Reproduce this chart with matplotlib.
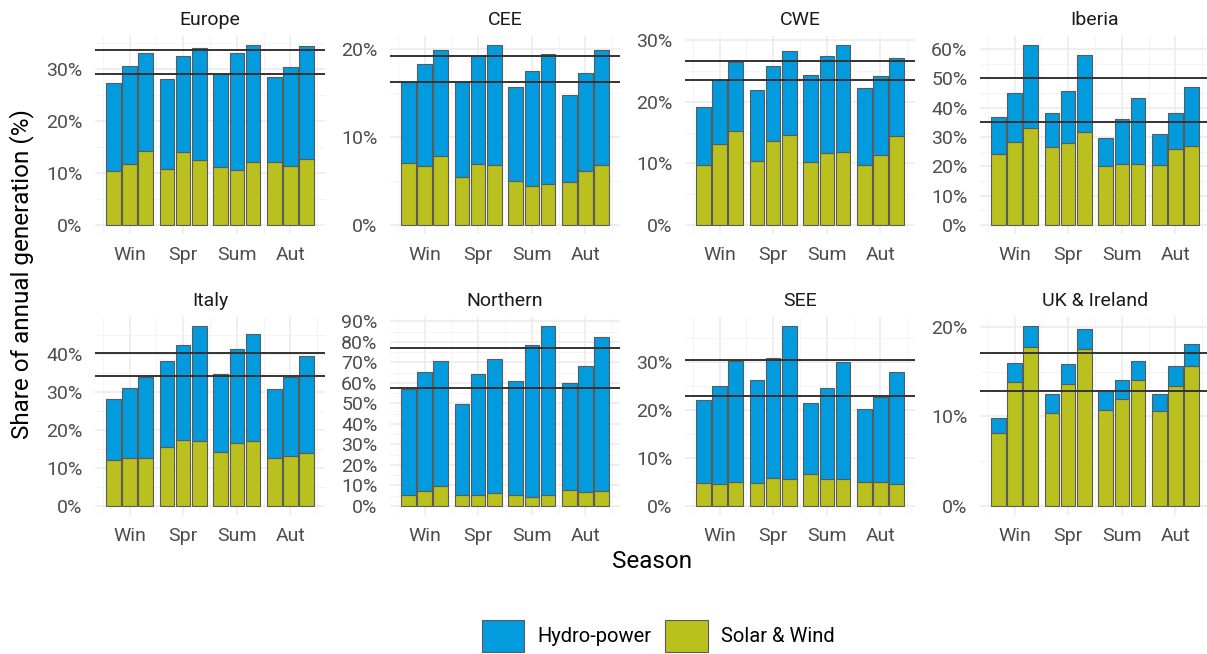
"""
Seasonal share of hydro-power and solar & wind in annual generation,
per region, three years per season, with two reference levels.
"""

import matplotlib.pyplot as plt
from matplotlib.patches import Patch
from matplotlib.ticker import MultipleLocator, PercentFormatter

plt.rcParams.update(
    {
        "font.family": ["Roboto", "DejaVu Sans"],
        "font.size": 14,
        "axes.spines.top": False,
        "axes.spines.right": False,
        "axes.spines.left": False,
        "axes.spines.bottom": False,
    }
)

REGIONS = ["Europe", "CEE", "CWE", "Iberia",
           "Italy", "Northern", "SEE", "UK & Ireland"]
SEASONS = ["Win", "Spr", "Sum", "Aut"]

# share of annual generation (%), 4 seasons x 3 years per region
SOLAR_WIND = [
    [10.4, 11.7, 14.3, 10.7, 14.1, 12.6, 11.2, 10.6, 12.2, 12.1, 11.4, 12.8],
    [7.1, 6.7, 7.9, 5.5, 7.0, 6.8, 5.0, 4.4, 4.7, 4.9, 6.1, 6.8],
    [9.8, 13.2, 15.2, 10.4, 13.7, 14.6, 10.2, 11.6, 11.8, 9.8, 11.4, 14.4],
    [24.2, 28.3, 33.0, 26.6, 28.0, 31.7, 20.0, 20.8, 20.9, 20.3, 26.0, 26.8],
    [12.0, 12.7, 12.6, 15.5, 17.4, 17.2, 14.3, 16.5, 17.0, 12.6, 13.1, 14.0],
    [5.5, 7.2, 9.8, 5.5, 5.5, 6.2, 5.5, 4.6, 5.5, 7.8, 6.8, 7.2],
    [4.8, 4.5, 4.9, 4.8, 5.8, 5.6, 6.7, 5.7, 5.6, 4.9, 5.0, 4.5],
    [8.2, 13.9, 17.8, 10.4, 13.6, 17.5, 10.7, 12.0, 14.1, 10.6, 13.4, 15.6],
]
HYDRO = [
    [17.0, 18.9, 18.8, 17.5, 18.5, 21.6, 17.9, 22.5, 22.5, 16.4, 19.0, 21.7],
    [9.2, 11.6, 12.0, 10.8, 12.2, 13.7, 10.7, 13.1, 14.8, 9.9, 11.2, 13.1],
    [9.3, 10.3, 11.2, 11.5, 12.1, 13.6, 14.2, 15.8, 17.4, 12.4, 12.7, 12.7],
    [12.8, 16.8, 28.4, 11.5, 17.6, 26.3, 9.8, 15.5, 22.5, 10.6, 12.2, 20.4],
    [16.2, 18.4, 21.3, 22.6, 25.0, 30.2, 20.5, 24.8, 28.4, 18.3, 20.9, 25.6],
    [51.7, 58.4, 60.9, 44.2, 59.0, 65.5, 55.6, 73.7, 82.3, 52.0, 61.6, 75.2],
    [17.3, 20.6, 25.4, 21.5, 25.0, 31.9, 14.8, 18.9, 24.3, 15.4, 17.8, 23.5],
    [1.6, 2.1, 2.3, 2.1, 2.3, 2.3, 2.1, 2.1, 2.1, 1.9, 2.2, 2.5],
]
LEVEL_LOW = [29.2, 16.3, 23.5, 35.1, 34.2, 57.8, 23.0, 12.8]
LEVEL_HIGH = [33.7, 19.2, 26.6, 50.0, 40.2, 77.2, 30.5, 17.1]

COLOR_HYDRO = "#029CDE"
COLOR_SOLAR = "#BAC11F"
EDGE = "#5A5A5A"

W, H = 1207, 654
COL_LEFT = [95, 390, 685, 980]
ROW_TOP = [36, 317]
PANEL_W, PANEL_H = 230, 198


def draw_panel(ax, k):
    solar = SOLAR_WIND[k]
    hydro = HYDRO[k]
    xs, bottoms = [], []
    for s in range(len(SEASONS)):
        for j in range(3):
            xs.append(s + 1 + (j - 1) * 0.3)
    ax.bar(xs, solar, width=0.27, color=COLOR_SOLAR, edgecolor=EDGE,
           linewidth=0.8, zorder=2)
    ax.bar(xs, hydro, width=0.27, bottom=solar, color=COLOR_HYDRO,
           edgecolor=EDGE, linewidth=0.8, zorder=2)
    for lvl in (LEVEL_LOW[k], LEVEL_HIGH[k]):
        ax.axhline(lvl, color="#333333", linewidth=1.4, zorder=3)

    top = max(max(a + b for a, b in zip(solar, hydro)),
              LEVEL_LOW[k], LEVEL_HIGH[k])
    ax.set_ylim(-0.05 * top, 1.05 * top)
    ax.set_xlim(0.355, 4.645)

    ax.set_xticks(range(1, len(SEASONS) + 1), SEASONS)
    ax.xaxis.set_minor_locator(MultipleLocator(0.5))
    ax.yaxis.set_major_locator(MultipleLocator(10))
    ax.yaxis.set_minor_locator(MultipleLocator(5))
    ax.yaxis.set_major_formatter(PercentFormatter(xmax=100, decimals=0))

    ax.grid(which="major", color="#EBEBEB", linewidth=1.1, zorder=0)
    ax.grid(which="minor", color="#F3F3F3", linewidth=0.6, zorder=0)
    ax.set_axisbelow(True)
    ax.tick_params(which="both", length=0, colors="#4D4D4D", labelsize=14)
    ax.tick_params(axis="x", pad=8.5)
    ax.tick_params(axis="y", pad=9)
    ax.set_title(REGIONS[k], fontsize=14, color="#1A1A1A", pad=8)


fig = plt.figure(figsize=(W / 100, H / 100), dpi=100)

for k in range(len(REGIONS)):
    r, c = divmod(k, 4)
    rect = [COL_LEFT[c] / W, 1 - (ROW_TOP[r] + PANEL_H) / H,
            PANEL_W / W, PANEL_H / H]
    draw_panel(fig.add_axes(rect), k)

fig.text(652 / W, 1 - 561 / H, "Season", ha="center", va="center",
         fontsize=17.5)
fig.text(22 / W, 1 - 274 / H, "Share of annual generation (%)",
         ha="center", va="center", rotation=90, fontsize=17.5)

handles = [
    Patch(facecolor=COLOR_HYDRO, edgecolor=EDGE, linewidth=0.8,
          label="Hydro-power"),
    Patch(facecolor=COLOR_SOLAR, edgecolor=EDGE, linewidth=0.8,
          label="Solar & Wind"),
]
fig.legend(handles=handles, loc="center", ncol=2, frameon=False,
           bbox_to_anchor=(658 / W, 1 - 636 / H), fontsize=14.5,
           handlelength=2.1, handleheight=2.1, handletextpad=0.65,
           columnspacing=0.7, borderpad=0)

fig.savefig("out.png", dpi=100)
